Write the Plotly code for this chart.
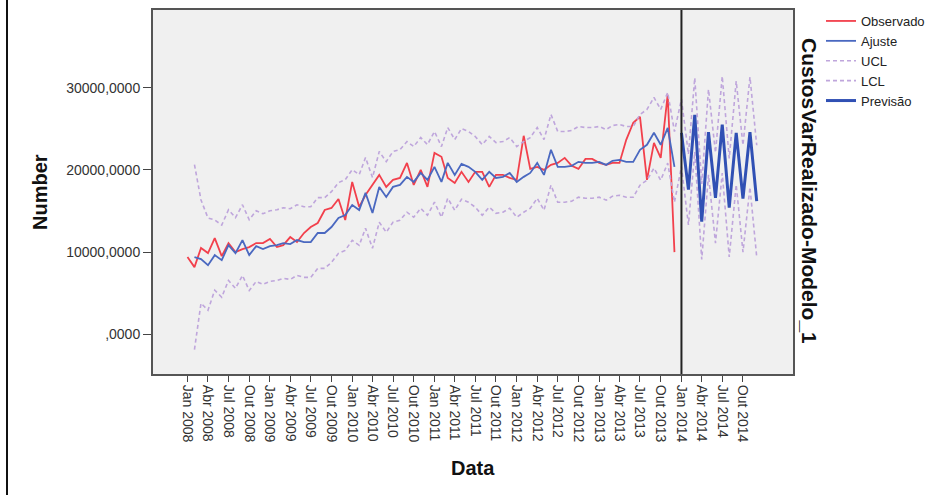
import plotly.graph_objects as go
import pandas as pd

# ---- data ----
months = pd.date_range("2008-01-01", periods=72, freq="MS")
forecast_months = pd.date_range("2014-01-01", periods=12, freq="MS")

observado = [9390, 8170, 10490, 9880, 11700, 9510, 11100, 10000, 10370, 10610, 11100, 11100,
             11590, 10610, 10850, 11830, 11220, 12320, 13050, 13540, 15120, 15370, 16460, 13900,
             18540, 15490, 16950, 18170, 19390, 17930, 18780, 19020, 20850, 18170, 20000, 17930,
             22070, 21590, 19020, 18410, 19760, 18540, 19760, 19760, 17930, 19390, 19390, 19020,
             18780, 24150, 20120, 20370, 20000, 20610, 20850, 21460, 20490, 20120, 21340, 21340,
             20850, 20610, 20850, 20850, 23660, 25730, 26460, 18780, 23290, 21460, 29150, 10000]

ajuste = [None, 9390, 9150, 8410, 9630, 9020, 10850, 9880, 11460, 9630, 10730, 10370,
          10730, 10850, 11100, 10980, 11460, 11220, 11220, 12320, 12320, 13050, 14150, 14510,
          15730, 15120, 17200, 14760, 17930, 16710, 17930, 18170, 19150, 18540, 19630, 18780,
          20370, 18540, 20850, 19390, 20730, 20370, 19760, 18780, 19760, 19020, 19150, 19630,
          18540, 19150, 19630, 20850, 19390, 22440, 20370, 20370, 20490, 20980, 20850, 20850,
          20980, 20610, 21100, 21220, 20980, 20980, 22440, 23050, 24510, 23050, 25120, 20370]

previsao = [24500, 17600, 26700, 13700, 24600, 16600, 25500, 15400, 24500, 16500, 24600, 16200]

# UCL / LCL: Feb 2008 .. Dec 2014
ucl = [20640, 16340, 14150, 13900, 13290, 15150, 14180, 15760, 13930, 15030, 14670,
       15030, 15150, 15400, 15280, 15760, 15520, 15520, 16620, 16620, 17350, 18450, 18810,
       20030, 19420, 21500, 19060, 22230, 21010, 22230, 22470, 23450, 22840, 23930, 23080,
       24670, 22840, 25150, 23690, 25030, 24670, 24060, 23080, 24060, 23320, 23450, 23930,
       22840, 23450, 23930, 25150, 23690, 26740, 24670, 24670, 24790, 25280, 25150, 25150,
       25280, 24910, 25400, 25520, 25280, 25280, 26740, 27350, 28810, 27350, 29420, 24670,
       28600, 21900, 31200, 18300, 29800, 22100, 31400, 21400, 30800, 23000, 31300, 23000]
lcl = [-1860, 3780, 2930, 5370, 4510, 6550, 5580, 7160, 5330, 6430, 6070,
       6430, 6550, 6800, 6680, 7160, 6920, 6920, 8020, 8020, 8750, 9850, 10210,
       11430, 10820, 12900, 10460, 13630, 12410, 13630, 13870, 14850, 14240, 15330, 14480,
       16070, 14240, 16550, 15090, 16430, 16070, 15460, 14480, 15460, 14720, 14850, 15330,
       14240, 14850, 15330, 16550, 15090, 18140, 16070, 16070, 16190, 16680, 16550, 16550,
       16680, 16310, 16800, 16920, 16680, 16680, 18140, 18750, 20210, 18750, 20820, 16070,
       20400, 13300, 22200, 9100, 19400, 11100, 19600, 9400, 18200, 10000, 17900, 9400]

tick_dates = pd.date_range("2008-01-01", "2014-10-01", freq="3MS")
tick_labels = ["Jan 2008", "Abr 2008", "Jul 2008", "Out 2008",
               "Jan 2009", "Abr 2009", "Jul 2009", "Out 2009",
               "Jan 2010", "Abr 2010", "Jul 2010", "Out 2010",
               "Jan 2011", "Abr 2011", "Jul 2011", "Out 2011",
               "Jan 2012", "Abr 2012", "Jul 2012", "Out 2012",
               "Jan 2013", "Abr 2013", "Jul 2013", "Out 2013",
               "Jan 2014", "Abr 2014", "Jul 2014", "Out 2014"]

y_ticks = [0, 10000, 20000, 30000]
y_labels = [",0000", "10000,0000", "20000,0000", "30000,0000"]

# ---- styling ----
RED = "#f2404c"
BLUE = "#4a68c0"
BLUE_FC = "#3050b4"
LAV = "#bfa6dc"
FONT = "Liberation Sans, Arial, sans-serif"

band_x = list(months[1:]) + list(forecast_months)

fig = go.Figure()
fig.add_trace(go.Scatter(x=months, y=observado, mode="lines", name="Observado",
                         line=dict(color=RED, width=1.8)))
fig.add_trace(go.Scatter(x=months, y=ajuste, mode="lines", name="Ajuste",
                         line=dict(color=BLUE, width=1.8)))
fig.add_trace(go.Scatter(x=band_x, y=ucl, mode="lines", name="UCL",
                         line=dict(color=LAV, width=1.6, dash="4px,3px")))
fig.add_trace(go.Scatter(x=band_x, y=lcl, mode="lines", name="LCL",
                         line=dict(color=LAV, width=1.6, dash="4px,3px")))
fig.add_trace(go.Scatter(x=forecast_months, y=previsao, mode="lines", name="Previsão",
                         line=dict(color=BLUE_FC, width=3)))

W, H = 937, 495
L, R, T, B = 153, 144, 10, 121
pw, ph = W - L - R, H - T - B

def px_x(p):
    return (p - L) / pw

def px_y(p):
    return (H - B - p) / ph

fig.update_layout(
    width=W, height=H,
    margin=dict(l=L, r=R, t=T, b=B, autoexpand=False),
    paper_bgcolor="white",
    plot_bgcolor="#f0f0f0",
    font=dict(family=FONT, color="#222"),
    showlegend=True,
    legend=dict(x=px_x(821), y=px_y(6), xanchor="left", yanchor="top",
                bgcolor="rgba(0,0,0,0)", font=dict(size=13, family=FONT, color="#222"),
                tracegroupgap=0),
    xaxis=dict(type="date", range=["2007-08-01", "2015-05-11"],
               tickvals=list(tick_dates), ticktext=tick_labels, tickangle=90,
               ticks="outside", ticklen=6, tickcolor="#444", tickwidth=1,
               tickfont=dict(size=14, family=FONT, color="#333"),
               showgrid=False, zeroline=False,
               showline=True, mirror=True, linecolor="#555", linewidth=2),
    yaxis=dict(range=[-4830, 39450], tickvals=y_ticks, ticktext=y_labels,
               ticks="outside", ticklen=8, tickcolor="#444", tickwidth=1,
               tickfont=dict(size=14, family=FONT, color="#333"),
               showgrid=False, zeroline=False,
               showline=True, mirror=True, linecolor="#555", linewidth=2),
    shapes=[
        dict(type="line", xref="x", yref="paper", x0="2014-01-01", x1="2014-01-01",
             y0=0, y1=1, line=dict(color="#222", width=2)),
        dict(type="line", xref="paper", yref="paper", x0=px_x(7), x1=px_x(7),
             y0=px_y(495), y1=px_y(0), line=dict(color="#111", width=2)),
    ],
    annotations=[
        dict(text="<b>Number</b>", xref="paper", yref="paper", x=px_x(40), y=0.5,
             textangle=-90, showarrow=False, font=dict(size=20, family=FONT, color="#111"),
             xanchor="center", yanchor="middle"),
        dict(text="<b>Data</b>", xref="paper", yref="paper", x=0.5, y=px_y(468),
             showarrow=False, font=dict(size=20, family=FONT, color="#111"),
             xanchor="center", yanchor="middle"),
        dict(text="<b>CustosVarRealizado-Modelo_1</b>", xref="paper", yref="paper",
             x=px_x(810), y=px_y(191), textangle=90, showarrow=False,
             font=dict(size=21, family=FONT, color="#111"),
             xanchor="center", yanchor="middle"),
    ],
)

fig.write_html(
    "out.html",
    config={"displayModeBar": False},
    post_script="document.body.style.margin='0';document.body.style.overflow='hidden';",
)
